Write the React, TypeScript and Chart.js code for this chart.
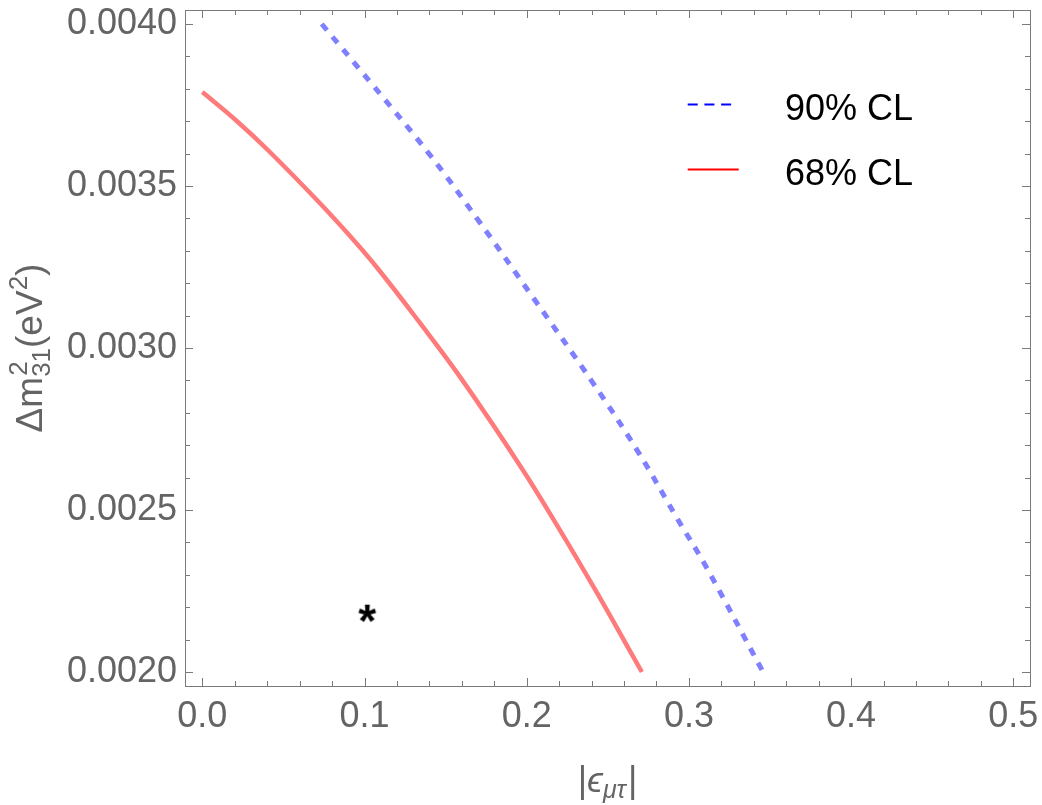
import React, { useEffect, useRef } from 'react';
import { Chart, registerables } from 'chart.js';

Chart.register(...registerables);

// ---------- data ----------
const xTicks = [0, 0.1, 0.2, 0.3, 0.4, 0.5];
const yTicks = [0.002, 0.0025, 0.003, 0.0035, 0.004];

const cl90X = [0.0736, 0.105, 0.14, 0.17, 0.205, 0.241, 0.268, 0.293, 0.31, 0.3457];
const cl90Y = [0.004, 0.003812, 0.003598, 0.003395, 0.003148, 0.002891, 0.002685, 0.002472, 0.00233, 0.002];

const cl68X = [0.0, 0.02, 0.041, 0.0715, 0.092, 0.1085, 0.133, 0.159, 0.196, 0.22, 0.243, 0.271];
const cl68Y = [0.00379, 0.003706, 0.003608, 0.003452, 0.00334, 0.003243, 0.003085, 0.00291, 0.002636, 0.002442, 0.002247, 0.002];

const bestFitX = [0.1017];
const bestFitY = [0.00218];

const legendLabels = ['90% CL', '68% CL'];

const X_MIN = -0.0107;
const X_MAX = 0.5103;
const Y_MIN = 0.0019568;
const Y_MAX = 0.0040432;

const FONT = '"Liberation Sans", Arial, sans-serif';
const GRAY = '#646464';
const FRAME = '#7a7a7a';

function toPoints(xs: number[], ys: number[]) {
  return xs.map((x, i) => ({ x, y: ys[i] }));
}

function makeStar(): HTMLCanvasElement {
  const c = document.createElement('canvas');
  c.width = 34;
  c.height = 34;
  const g = c.getContext('2d')!;
  g.font = `bold 46px ${FONT}`;
  g.fillStyle = '#000';
  const m = g.measureText('*');
  const w = m.actualBoundingBoxLeft + m.actualBoundingBoxRight;
  const h = m.actualBoundingBoxAscent + m.actualBoundingBoxDescent;
  const x = 17 - w / 2 + m.actualBoundingBoxLeft;
  const y = 17 - h / 2 + m.actualBoundingBoxAscent;
  g.fillText('*', x, y);
  return c;
}

const framePlugin = {
  id: 'framePlugin',
  afterDraw(chart: any) {
    const { ctx, chartArea } = chart;
    const { left, right, top, bottom } = chartArea;
    const xs = chart.scales.x;
    const ys = chart.scales.y;
    ctx.save();
    ctx.strokeStyle = FRAME;
    ctx.lineWidth = 1;
    ctx.strokeRect(left + 0.5, top + 0.5, right - left, bottom - top);

    // x ticks (bottom and top), inward
    for (let i = 0; i <= 25; i++) {
      const v = i * 0.02;
      const px = Math.round(xs.getPixelForValue(v)) + 0.5;
      if (px < left || px > right) continue;
      const len = i % 5 === 0 ? 8 : 5;
      ctx.beginPath();
      ctx.moveTo(px, bottom);
      ctx.lineTo(px, bottom - len);
      ctx.moveTo(px, top);
      ctx.lineTo(px, top + len);
      ctx.stroke();
    }
    // y ticks (left and right), inward
    for (let i = 19; i <= 41; i++) {
      const v = i * 0.0001;
      const py = Math.round(ys.getPixelForValue(v)) + 0.5;
      if (py < top || py > bottom) continue;
      const len = i % 5 === 0 ? 8 : 5;
      ctx.beginPath();
      ctx.moveTo(left, py);
      ctx.lineTo(left + len, py);
      ctx.moveTo(right, py);
      ctx.lineTo(right - len, py);
      ctx.stroke();
    }

    // legend
    ctx.lineWidth = 2;
    ctx.strokeStyle = '#0000ff';
    ctx.setLineDash([10, 6.7]);
    ctx.beginPath();
    ctx.moveTo(687.7, 104.5);
    ctx.lineTo(731.7, 104.5);
    ctx.stroke();
    ctx.setLineDash([]);
    ctx.strokeStyle = '#ff0000';
    ctx.beginPath();
    ctx.moveTo(687.7, 169.5);
    ctx.lineTo(738.7, 169.5);
    ctx.stroke();
    ctx.fillStyle = '#000';
    ctx.font = `36px ${FONT}`;
    ctx.textBaseline = 'alphabetic';
    ctx.textAlign = 'left';
    ctx.fillText(legendLabels[0], 785, 119.5);
    ctx.fillText(legendLabels[1], 785, 184.5);

    // y-axis title: Δm²₃₁(eV²)
    const main = `37px ${FONT}`;
    const small = `26px ${FONT}`;
    ctx.fillStyle = GRAY;
    ctx.save();
    ctx.translate(42, (top + bottom) / 2);
    ctx.rotate(-Math.PI / 2);
    ctx.font = main;
    const w1 = ctx.measureText('Δm').width;
    const w2 = ctx.measureText('(eV').width;
    const w4 = ctx.measureText(')').width;
    ctx.font = small;
    const wSS = Math.max(ctx.measureText('2').width, ctx.measureText('31').width);
    const w3 = ctx.measureText('2').width;
    const total = w1 + wSS + w2 + w3 + w4;
    let cx = -total / 2;
    ctx.font = main;
    ctx.fillText('Δm', cx, 0);
    cx += w1;
    ctx.font = small;
    ctx.fillText('2', cx + 1, -15);
    ctx.fillText('31', cx, 8);
    cx += wSS;
    ctx.font = main;
    ctx.fillText('(eV', cx, 0);
    cx += w2;
    ctx.font = small;
    ctx.fillText('2', cx, -15);
    cx += w3;
    ctx.font = main;
    ctx.fillText(')', cx, 0);
    ctx.restore();

    // x-axis title: |ϵ_{μτ}|
    const mainX = `36px ${FONT}`;
    const italX = `italic 36px ${FONT}`;
    const subX = `italic 25px ${FONT}`;
    ctx.font = mainX;
    const b1 = ctx.measureText('|').width;
    ctx.font = italX;
    const b2 = ctx.measureText('ϵ').width;
    ctx.font = subX;
    const b3 = ctx.measureText('μτ').width;
    const tot2 = b1 * 2 + b2 + b3 + 2;
    let bx = (left + right) / 2 - tot2 / 2;
    const base = 792;
    ctx.font = mainX;
    ctx.fillText('|', bx, base);
    bx += b1;
    ctx.font = italX;
    ctx.fillText('ϵ', bx, base);
    bx += b2;
    ctx.font = subX;
    ctx.fillText('μτ', bx, base + 6);
    bx += b3 + 2;
    ctx.font = mainX;
    ctx.fillText('|', bx, base);
    ctx.restore();
  },
};

export default function App() {
  const ref = useRef<HTMLCanvasElement | null>(null);

  useEffect(() => {
    if (!ref.current) return;
    const star = makeStar();
    const chart = new Chart(ref.current, {
      type: 'scatter',
      data: {
        datasets: [
          {
            label: legendLabels[0],
            data: toPoints(cl90X, cl90Y),
            showLine: true,
            borderColor: 'rgb(128,128,255)',
            borderWidth: 5,
            borderDash: [8, 8.5],
            borderCapStyle: 'butt',
            pointRadius: 0,
            tension: 0.4,
            fill: false,
          },
          {
            label: legendLabels[1],
            data: toPoints(cl68X, cl68Y),
            showLine: true,
            borderColor: 'rgb(255,122,122)',
            borderWidth: 4.5,
            pointRadius: 0,
            tension: 0.4,
            fill: false,
          },
          {
            label: 'best fit',
            data: toPoints(bestFitX, bestFitY),
            showLine: false,
            pointStyle: star,
            pointRadius: 8,
            backgroundColor: '#000',
            borderColor: '#000',
          },
        ],
      },
      options: {
        animation: false,
        responsive: false,
        layout: { padding: { top: 10, right: 12, left: 0, bottom: 0 } },
        plugins: {
          legend: { display: false },
          tooltip: { enabled: false },
        },
        scales: {
          x: {
            type: 'linear',
            min: X_MIN,
            max: X_MAX,
            grid: { display: false, drawTicks: false },
            border: { display: false },
            afterBuildTicks: (s: any) => {
              s.ticks = xTicks.map((v) => ({ value: v }));
            },
            afterFit: (s: any) => {
              s.height = 119;
              s.paddingLeft = 0;
              s.paddingRight = 0;
            },
            ticks: {
              autoSkip: false,
              maxRotation: 0,
              minRotation: 0,
              padding: 9,
              color: GRAY,
              font: { family: FONT, size: 36 },
              callback: (v: any) => Number(v).toFixed(1),
            },
          },
          y: {
            type: 'linear',
            min: Y_MIN,
            max: Y_MAX,
            grid: { display: false, drawTicks: false },
            border: { display: false },
            afterBuildTicks: (s: any) => {
              s.ticks = yTicks.map((v) => ({ value: v }));
            },
            afterFit: (s: any) => {
              s.width = 185;
              s.paddingTop = 0;
              s.paddingBottom = 0;
            },
            ticks: {
              autoSkip: false,
              padding: 8,
              color: GRAY,
              font: { family: FONT, size: 36 },
              callback: (v: any) => Number(v).toFixed(4),
            },
          },
        },
      },
      plugins: [framePlugin],
    });
    return () => chart.destroy();
  }, []);

  return (
    <div style={{ position: 'fixed', left: 0, top: 0, width: 1042, height: 805, background: '#fff' }}>
      <canvas ref={ref} width={1042} height={805} style={{ display: 'block', width: 1042, height: 805 }} />
    </div>
  );
}
